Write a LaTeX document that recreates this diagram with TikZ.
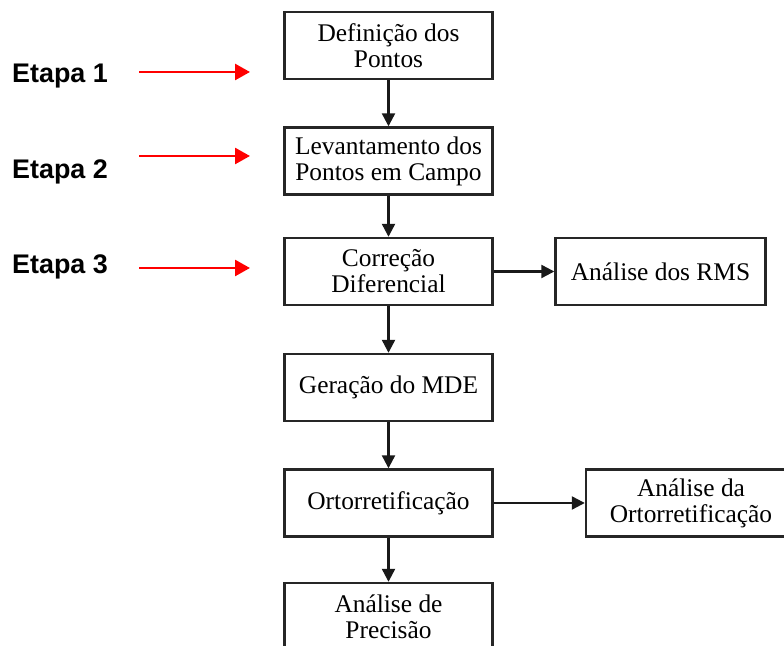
\documentclass[tikz,border=0pt]{standalone}
\usepackage{fontspec}
\setmainfont{Liberation Serif}
\newfontfamily\etapafont{Liberation Sans}
\usetikzlibrary{arrows.meta,shapes}

\begin{document}
\begin{tikzpicture}[x=1bp,y=1bp,
  caixa/.style={draw=black!85,line width=2.4bp,minimum width=208bp,minimum height=67bp,
    inner sep=0pt,align=center,font=\fontsize{25.5}{26}\selectfont},
  etapa/.style={anchor=base west,inner sep=0pt,font=\etapafont\bfseries\fontsize{27}{30}\selectfont},
  seta/.style={line width=2.3bp,black!90,-{Triangle[length=13bp,width=13bp]}},
  setavermelha/.style={line width=2.7bp,red,-{Triangle[length=15bp,width=16bp]}}]
\clip (0,0) rectangle (784,646);

% fluxograma
\node[caixa] (def)  at (388.5,600.5) {Defini\c{c}\~ao dos\\Pontos};
\node[caixa] (lev)  at (388.5,485)   {Levantamento dos\\Pontos em Campo};
\node[caixa] (corr) at (388.5,374.5) {Corre\c{c}\~ao\\Diferencial};
\node[caixa] (mde)  at (388.5,258.5) {Gera\c{c}\~ao do MDE};
\node[caixa] (orto) at (388.5,143)   {Ortorretifica\c{c}\~ao};
\node[caixa] (prec) at (388.5,29.5)  {An\'alise de\\Precis\~ao};
\node[caixa,minimum width=210bp] (rms)   at (660.5,374.5) {An\'alise dos RMS};
\node[caixa,minimum width=210bp] (aorto) at (691,143)     {An\'alise da\\Ortorretifica\c{c}\~ao};

\draw[seta] (def) -- (lev);
\draw[seta] (lev) -- (corr);
\draw[seta] (corr) -- (mde);
\draw[seta] (mde) -- (orto);
\draw[seta] (orto) -- (prec);
\draw[seta] (corr) -- (rms);
\draw[seta] (orto) -- (aorto);

% etapas
\node[etapa] (e1) at (12,563.5) {Etapa 1};
\node[etapa] (e2) at (12,467)   {Etapa 2};
\node[etapa] (e3) at (12,372)   {Etapa 3};
\coordinate (r1a) at (139,574); \coordinate (r1b) at (250,574);
\coordinate (r2a) at (139,490); \coordinate (r2b) at (250,490);
\coordinate (r3a) at (139,378); \coordinate (r3b) at (250,378);
\draw[setavermelha] (r1a) -- (r1b);
\draw[setavermelha] (r2a) -- (r2b);
\draw[setavermelha] (r3a) -- (r3b);
\end{tikzpicture}
\end{document}
